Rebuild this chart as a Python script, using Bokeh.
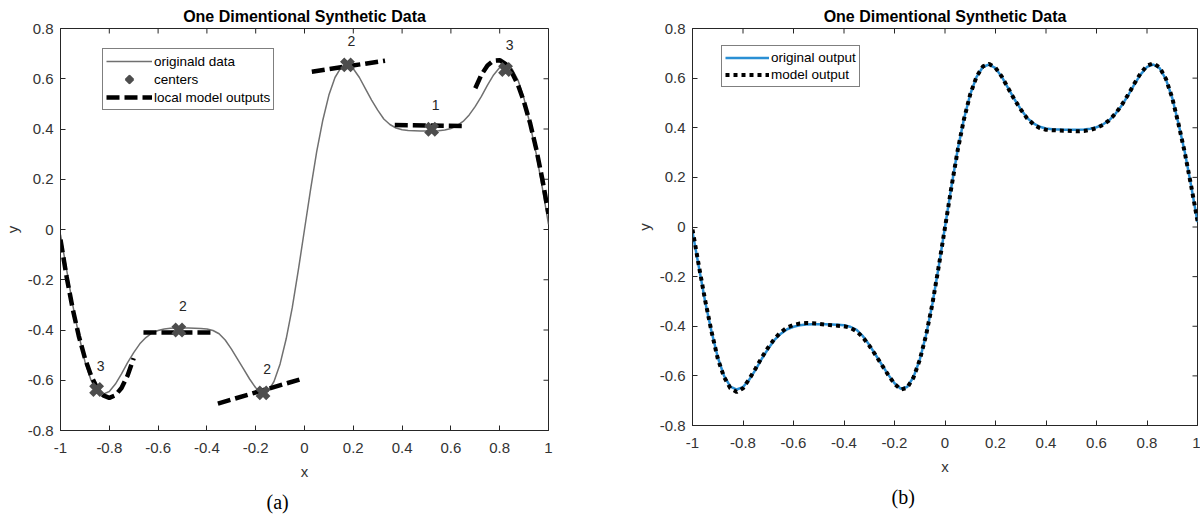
import math
from bokeh.plotting import figure
from bokeh.layouts import row
from bokeh.models import FixedTicker, Legend, LegendItem, Range1d, Title
from bokeh.embed import file_html
from bokeh.resources import INLINE
from bokeh.core.properties import value

# ---------------- data ----------------
x_grid = [-1.000, -0.975, -0.950, -0.925, -0.900, -0.875, -0.850, -0.825, -0.800, -0.775,
          -0.750, -0.725, -0.700, -0.675, -0.650, -0.625, -0.600, -0.575, -0.550, -0.525,
          -0.500, -0.475, -0.450, -0.425, -0.400, -0.375, -0.350, -0.325, -0.300, -0.275,
          -0.250, -0.225, -0.200, -0.175, -0.150, -0.125, -0.100, -0.075, -0.050, -0.025,
          0.000, 0.025, 0.050, 0.075, 0.100, 0.125, 0.150, 0.175, 0.200, 0.225,
          0.250, 0.275, 0.300, 0.325, 0.350, 0.375, 0.400, 0.425, 0.450, 0.475,
          0.500, 0.525, 0.550, 0.575, 0.600, 0.625, 0.650, 0.675, 0.700, 0.725,
          0.750, 0.775, 0.800, 0.825, 0.850, 0.875, 0.900, 0.925, 0.950, 0.975, 1.000]

y_original = [-0.02, -0.16, -0.30, -0.42, -0.525, -0.60, -0.643, -0.655, -0.645, -0.615,
              -0.575, -0.53, -0.49, -0.455, -0.43, -0.412, -0.402, -0.396, -0.393, -0.392,
              -0.392, -0.392, -0.393, -0.394, -0.396, -0.402, -0.415, -0.44, -0.475, -0.515,
              -0.555, -0.595, -0.63, -0.652, -0.645, -0.605, -0.535, -0.435, -0.31, -0.16,
              0.00, 0.16, 0.31, 0.435, 0.535, 0.605, 0.645, 0.655, 0.64, 0.605,
              0.56, 0.515, 0.475, 0.44, 0.418, 0.404, 0.397, 0.394, 0.393, 0.392,
              0.392, 0.392, 0.393, 0.396, 0.402, 0.413, 0.43, 0.456, 0.49, 0.53,
              0.575, 0.615, 0.645, 0.655, 0.64, 0.595, 0.52, 0.415, 0.30, 0.165, 0.02]

y_model = [-0.01, -0.155, -0.295, -0.42, -0.53, -0.605, -0.65, -0.665, -0.65, -0.612,
           -0.57, -0.525, -0.485, -0.45, -0.424, -0.405, -0.395, -0.389, -0.387, -0.388,
           -0.39, -0.393, -0.396, -0.398, -0.40, -0.406, -0.42, -0.445, -0.478, -0.516,
           -0.556, -0.596, -0.632, -0.655, -0.648, -0.607, -0.536, -0.436, -0.31, -0.16,
           -0.002, 0.158, 0.308, 0.434, 0.535, 0.606, 0.647, 0.657, 0.642, 0.606,
           0.56, 0.514, 0.474, 0.438, 0.414, 0.399, 0.392, 0.39, 0.389, 0.388,
           0.387, 0.386, 0.387, 0.391, 0.399, 0.411, 0.43, 0.457, 0.492, 0.533,
           0.578, 0.62, 0.65, 0.66, 0.643, 0.597, 0.52, 0.414, 0.298, 0.165, 0.025]

center_x = [0.176, 0.521, 0.824, -0.515, -0.170, -0.852]
center_y = [0.655, 0.399, 0.637, -0.400, -0.650, -0.637]
center_labels = ["2", "1", "3", "2", "2", "3"]

local_xs = [
    [0.03, 0.33],
    [0.37, 0.66],
    [0.70, 0.725, 0.75, 0.775, 0.80, 0.825, 0.85, 0.875, 0.90, 0.925, 0.95, 0.975, 1.00],
    [-1.00, -0.975, -0.95, -0.925, -0.90, -0.875, -0.85, -0.825, -0.80, -0.775, -0.75, -0.725, -0.70],
    [-0.66, -0.385],
    [-0.355, -0.02],
]
local_ys = [
    [0.628, 0.672],
    [0.416, 0.412],
    [0.562, 0.616, 0.653, 0.672, 0.674, 0.658, 0.625, 0.575, 0.507, 0.422, 0.319, 0.199, 0.062],
    [-0.04, -0.188, -0.316, -0.424, -0.512, -0.581, -0.631, -0.660, -0.670, -0.660, -0.631, -0.581, -0.512],
    [-0.41, -0.41],
    [-0.693, -0.597],
]

x_ticks = [-1, -0.8, -0.6, -0.4, -0.2, 0, 0.2, 0.4, 0.6, 0.8, 1]
x_tick_labels = ["-1", "-0.8", "-0.6", "-0.4", "-0.2", "0", "0.2", "0.4", "0.6", "0.8", "1"]
y_ticks = [-0.8, -0.6, -0.4, -0.2, 0, 0.2, 0.4, 0.6, 0.8]
y_tick_labels = ["-0.8", "-0.6", "-0.4", "-0.2", "0", "0.2", "0.4", "0.6", "0.8"]

TITLE = "One Dimentional Synthetic Data"
FONT = "Liberation Sans"
AX_COLOR = "#262626"
LBL_COLOR = "#333333"


def style_axis(ax, ticks, labels, standoff):
    ax.ticker = FixedTicker(ticks=ticks)
    ax.major_tick_in = 5
    ax.major_tick_out = 0
    ax.minor_tick_in = 0
    ax.minor_tick_out = 0
    ax.axis_line_color = AX_COLOR
    ax.major_tick_line_color = AX_COLOR
    ax.major_label_overrides = dict(zip(ticks, labels))
    ax.major_label_text_font = FONT
    ax.major_label_text_color = LBL_COLOR
    ax.major_label_text_font_size = "15px"
    ax.major_label_standoff = standoff
    ax.axis_label_text_font = FONT
    ax.axis_label_text_font_size = "15px"
    ax.axis_label_text_font_style = "normal"
    ax.axis_label_text_color = LBL_COLOR


def make_fig(width, height, left, right, caption, cap_offset):
    p = figure(width=width, height=height, output_backend="svg", toolbar_location=None,
               x_range=Range1d(-1, 1), y_range=Range1d(-0.8, 0.8),
               min_border_left=left, min_border_right=right,
               min_border_top=28, min_border_bottom=90,
               x_axis_label="x", y_axis_label="y")
    p.title.text = TITLE
    p.title.align = "center"
    p.title.text_font = FONT
    p.title.text_font_size = "16px"
    p.title.text_font_style = "bold"
    p.title.text_color = "#000000"
    p.title.standoff = 7
    p.xgrid.visible = False
    p.ygrid.visible = False
    p.outline_line_color = AX_COLOR
    p.outline_line_width = 1
    p.background_fill_color = "white"
    p.border_fill_color = "white"
    style_axis(p.xaxis[0], x_ticks, x_tick_labels, 12)
    p.xaxis[0].axis_label_standoff = 7
    style_axis(p.yaxis[0], y_ticks, y_tick_labels, 7)
    p.yaxis[0].axis_label_standoff = 4
    # inward ticks on the top and right edges of the box
    p.ray(x=x_ticks, y=[p.y_range.end] * len(x_ticks), length=5, length_units="screen",
          angle=-math.pi / 2, line_color=AX_COLOR, line_width=1)
    p.ray(x=[p.x_range.end] * len(y_ticks), y=y_ticks, length=5, length_units="screen",
          angle=math.pi, line_color=AX_COLOR, line_width=1)
    p.add_layout(Title(text=caption, align="left", offset=cap_offset,
                       text_font="Liberation Serif", text_font_size="20px",
                       text_font_style="normal", text_color="black", standoff=13), "below")
    return p


# ---------------- (a) ----------------
pa = make_fig(620, 520, 60, 72, "(a)", 206)
r_orig = pa.line(x_grid, y_original, line_color="#707070", line_width=1.5)
r_local = pa.multi_line(local_xs, local_ys, line_color="black", line_width=4.5,
                        line_dash="13 5")
r_cent = pa.scatter(center_x, center_y, marker="x", size=15, line_width=6,
                    line_color="#4d4d4d")
pa.text(center_x, center_y, text=center_labels, x_offset=4, y_offset=-24,
        text_font=value(FONT), text_font_size=value("14px"), text_color="#262626",
        text_align="center", text_baseline="middle")
leg_a = Legend(items=[LegendItem(label="originald data", renderers=[r_orig]),
                      LegendItem(label="centers", renderers=[r_cent]),
                      LegendItem(label="local model outputs", renderers=[r_local])],
               location=(42, 320))
pa.add_layout(leg_a)

# ---------------- (b) ----------------
pb = make_fig(580, 515, 72, 3, "(b)", 199)
r_b1 = pb.line(x_grid, y_original, line_color="#2a8fd4", line_width=2.5)
r_b2 = pb.line(x_grid, y_model, line_color="black", line_width=4, line_dash="4 4")
leg_b = Legend(items=[LegendItem(label="original output", renderers=[r_b1]),
                      LegendItem(label="model output", renderers=[r_b2])],
               location=(29, 338))
pb.add_layout(leg_b)

for lg, gw, gh in [(leg_a, 46, 18), (leg_b, 44, 17)]:
    lg.border_line_color = "black"
    lg.border_line_width = 1
    lg.background_fill_color = "white"
    lg.background_fill_alpha = 1
    lg.label_text_font = FONT
    lg.label_text_font_size = "13.5px"
    lg.label_text_color = "#000000"
    lg.glyph_width = gw
    lg.glyph_height = gh
    lg.label_height = gh
    lg.spacing = 0
    lg.padding = 3
    lg.margin = 0
    lg.label_standoff = 2

layout = row(pa, pb)
open("out.html", "w").write(file_html(layout, INLINE))
